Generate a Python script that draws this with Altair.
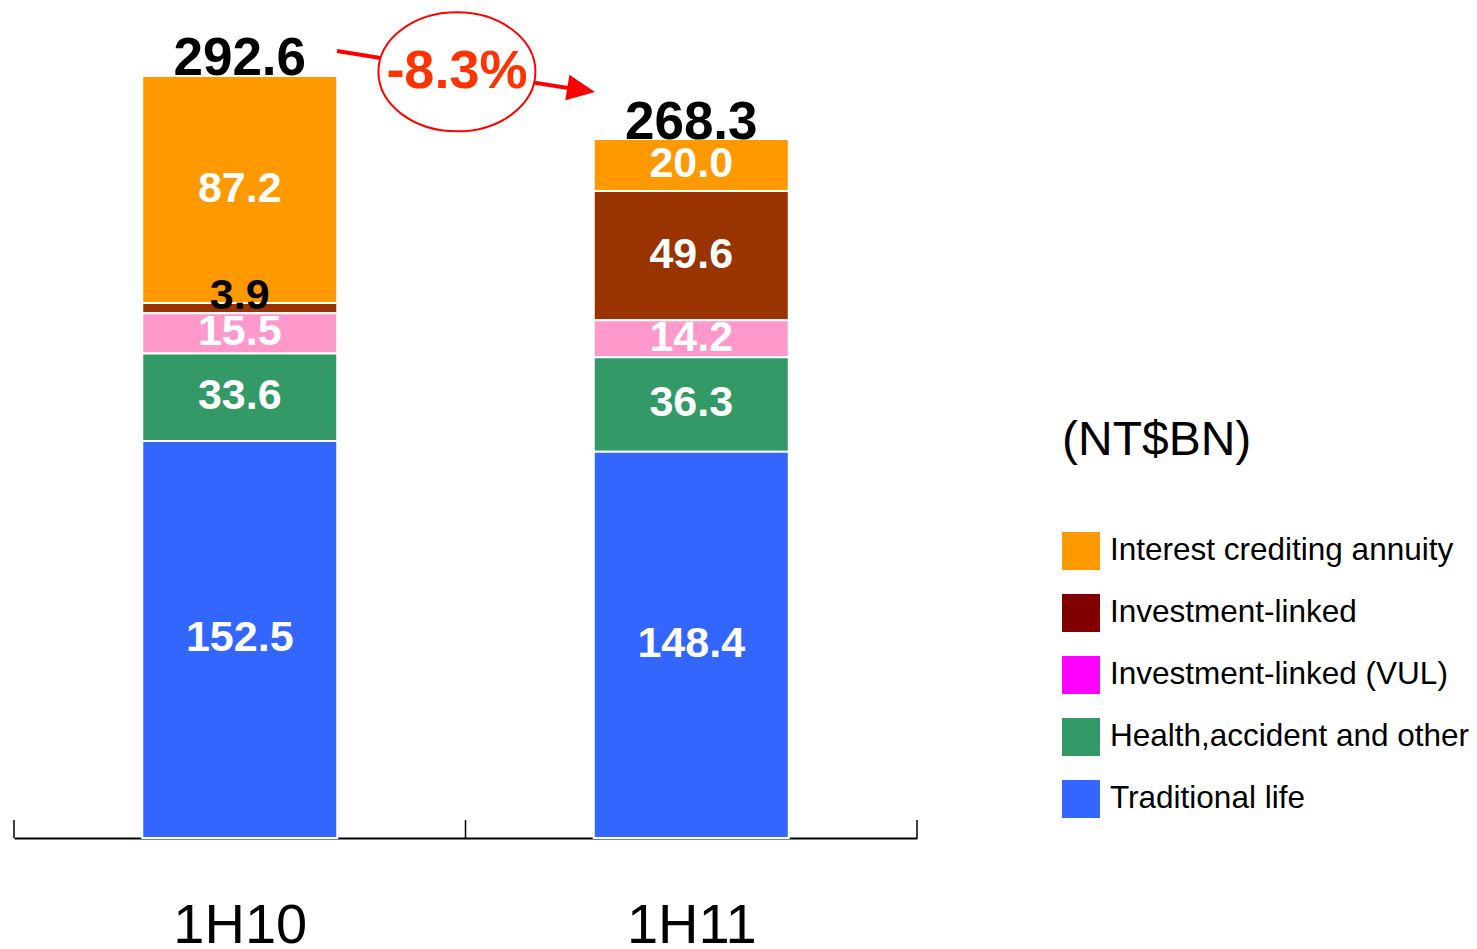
import altair as alt
import pandas as pd

# ---------------- data ----------------
periods = ["1H10", "1H11"]
segments = [
    "Interest crediting annuity",
    "Investment-linked",
    "Investment-linked (VUL)",
    "Health,accident and other",
    "Traditional life",
]
values_1h10 = [87.2, 3.9, 15.5, 33.6, 152.5]
values_1h11 = [20.0, 49.6, 14.2, 36.3, 148.4]
totals = [292.6, 268.3]
change_label = "-8.3%"
unit_label = "(NT$BN)"

bar_colors = ["#FF9900", "#993300", "#FF99CC", "#339966", "#3366FF"]
legend_colors = ["#FF9900", "#800000", "#FF00FF", "#339966", "#3366FF"]

# annotation anchor points (data units: x = category index space, y = NT$BN)
arrow_x = [0.7154, 1.255]
arrow_y = [302.3, 287.3]
arrow_tip = (1.2868, 286.6)
bubble_center = (0.981, 294.3)

FONT = "Liberation Sans"

rows = []
for i, (p, vals) in enumerate(zip(periods, [values_1h10, values_1h11])):
    for j, (s, v) in enumerate(zip(segments, vals)):
        rows.append({"period": p, "pos": i + 0.5, "segment": s, "value": v,
                     "label": f"{v:.1f}", "order": len(segments) - 1 - j})
df = pd.DataFrame(rows)
tot_df = pd.DataFrame({"period": periods, "pos": [i + 0.5 for i in range(len(periods))],
                       "total": totals, "label": [f"{t:.1f}" for t in totals]})
tick_df = pd.DataFrame({"tick": list(range(len(periods) + 1))})
arrow_df = pd.DataFrame({"ax": arrow_x, "ay": arrow_y, "k": [0, 1]})
tip_df = pd.DataFrame({"ax": [arrow_tip[0]], "ay": [arrow_tip[1]]})
bubble_df = pd.DataFrame({"ax": [bubble_center[0]], "ay": [bubble_center[1]], "t": [change_label]})

W, H = 903, 762
ymax = sum(values_1h10)

label_expr = " : ".join([f"datum.value < {i + 1} ? '{p}'" for i, p in enumerate(periods[:-1])]) + f" : '{periods[-1]}'"

xaxis = alt.Axis(values=[i + 0.5 for i in range(len(periods))], labelExpr=label_expr, ticks=False,
                 tickSize=0, domainColor="black", domainWidth=2, labelFontSize=56, labelFont=FONT,
                 labelColor="black", labelPadding=60, grid=False, title=None)
xscale = alt.Scale(domain=[0, len(periods)], nice=False, zero=False, padding=0)
yscale = alt.Scale(domain=[0, ymax], nice=False, zero=True, padding=0)


def X(field):
    return alt.X(f"{field}:Q", scale=xscale, axis=xaxis)


def Y(field):
    return alt.Y(f"{field}:Q", scale=yscale, axis=None)


base = alt.Chart(df).transform_stack(
    stack="value", groupby=["period"], as_=["y0", "y1"], sort=[alt.SortField("order", order="ascending")]
).transform_calculate(mid="(datum.y0 + datum.y1) / 2")

legend = alt.Legend(orient="none", legendX=1048, legendY=341, title=unit_label, titleFontSize=48,
                    titleFont=FONT, titleFontWeight="normal", titleColor="black", titlePadding=67,
                    titleLimit=600, symbolType="square", symbolSize=1444, symbolStrokeWidth=0,
                    symbolOpacity=1, labelFontSize=31.5, labelFont=FONT, labelColor="black",
                    labelLimit=700, labelOffset=10, rowPadding=24, padding=0)

bars_legend = base.mark_bar(width=195).encode(
    x=X("pos"), y=Y("y1"), y2="y0",
    color=alt.Color("segment:N", scale=alt.Scale(domain=segments, range=legend_colors), legend=legend),
)
bars = base.mark_bar(width=195, stroke="white", strokeWidth=2).encode(
    x=X("pos"), y=Y("y1"), y2="y0",
    fill=alt.Fill("segment:N", scale=alt.Scale(domain=segments, range=bar_colors), legend=None),
)
seg_text = base.transform_filter("datum.value >= 10").mark_text(
    font=FONT, fontSize=43, fontWeight="bold", color="white", baseline="middle", dy=-1
).encode(x=X("pos"), y=Y("mid"), text="label:N")
small_text = base.transform_filter("datum.value < 10").mark_text(
    font=FONT, fontSize=43, fontWeight="bold", color="black", baseline="middle", dy=-12
).encode(x=X("pos"), y=Y("mid"), text="label:N")

tot_text = alt.Chart(tot_df).mark_text(
    font=FONT, fontSize=53, fontWeight="bold", color="black", baseline="alphabetic", dy=-1
).encode(x=X("pos"), y=Y("total"), text="label:N")

ticks = alt.Chart(tick_df).mark_rule(color="black", strokeWidth=1.5).encode(
    x=X("tick"), y=alt.value(H - 18), y2=alt.value(H)
)

arrow_line = alt.Chart(arrow_df).mark_line(color="#FF0000", strokeWidth=4).encode(
    x=X("ax"), y=Y("ay"), order="k:Q"
)
arrow_head = alt.Chart(tip_df).mark_point(
    shape="M 0 0 L -2 -0.93 L -2 0.93 Z", size=784, angle=9, filled=True, color="#FF0000", opacity=1
).encode(x=X("ax"), y=Y("ay"))
ellipse = alt.Chart(bubble_df).mark_point(
    shape="M -1 0 A 1 0.758 0 1 0 1 0 A 1 0.758 0 1 0 -1 0", size=157 * 157, filled=True,
    fill="white", stroke="#FF0000", strokeWidth=2, opacity=1, fillOpacity=1, strokeOpacity=1
).encode(x=X("ax"), y=Y("ay"))
bubble_text = alt.Chart(bubble_df).mark_text(
    font=FONT, fontSize=54, fontWeight="bold", color="#FF3300", baseline="middle"
).encode(x=X("ax"), y=Y("ay"), text="t:N")

chart = alt.layer(
    bars_legend, bars, seg_text, small_text, tot_text, ticks, arrow_line, arrow_head, ellipse, bubble_text
).properties(
    width=W, height=H,
    background="white",
    autosize=alt.AutoSizeParams(type="none"),
    padding={"left": 6, "top": 68, "right": 552, "bottom": 110},
).configure_view(stroke="transparent", strokeWidth=0)

chart.save("out.html", embed_options={"renderer": "svg", "actions": False})
